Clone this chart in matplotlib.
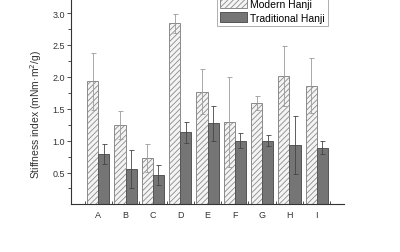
import numpy as np
import matplotlib
matplotlib.use('Agg')
import matplotlib.pyplot as plt
from matplotlib.ticker import FixedLocator

# dados
amostras = ['A', 'B', 'C', 'D', 'E', 'F', 'G', 'H', 'I']
moderno = [1.93, 1.24, 0.73, 2.84, 1.77, 1.29, 1.59, 2.02, 1.86]
moderno_err = [0.45, 0.22, 0.22, 0.15, 0.35, 0.71, 0.11, 0.47, 0.43]
tradicional = [0.79, 0.55, 0.46, 1.13, 1.27, 1.00, 1.00, 0.93, 0.89]
tradicional_err = [0.15, 0.30, 0.16, 0.16, 0.27, 0.12, 0.09, 0.45, 0.10]

plt.rcParams['font.family'] = 'Liberation Sans'
plt.rcParams['hatch.color'] = '#b0b0b0'
plt.rcParams['hatch.linewidth'] = 0.6

fig = plt.figure(figsize=(4, 2.53), dpi=100)
ax = fig.add_axes([0.1775, 0.188, 0.6825, 0.812])

x = np.arange(len(amostras))
w = 0.41

ax.bar(x - w / 2, moderno, w, yerr=moderno_err, color='#f4f4f4', hatch='//////',
       edgecolor='#8a8a8a', linewidth=0.7, label='Modern Hanji',
       error_kw=dict(ecolor='#9a9a9a', elinewidth=0.6, capsize=1.8, capthick=0.6))
ax.bar(x + w / 2, tradicional, w, yerr=tradicional_err, color='#757575',
       edgecolor='#555555', linewidth=0.7, label='Traditional Hanji',
       error_kw=dict(ecolor='#444444', elinewidth=0.6, capsize=1.8, capthick=0.6))

ax.set_xlim(-1, 9)
ax.set_ylim(0, 3.22)

ax.spines['top'].set_visible(False)
ax.spines['right'].set_visible(False)
for s in ['left', 'bottom']:
    ax.spines[s].set_color('#333333')
    ax.spines[s].set_linewidth(0.8)

ax.yaxis.set_major_locator(FixedLocator([0.5, 1.0, 1.5, 2.0, 2.5, 3.0]))
ax.yaxis.set_minor_locator(FixedLocator([0.25, 0.75, 1.25, 1.75, 2.25, 2.75]))
ax.tick_params(axis='y', which='major', direction='out', length=3, width=0.6,
               labelsize=6.5, colors='#333333', pad=1.5)
ax.tick_params(axis='y', which='minor', direction='out', length=2, width=0.6,
               colors='#333333')

ax.set_xticks(x)
ax.set_xticklabels(amostras)
ax.xaxis.set_minor_locator(FixedLocator(np.arange(-0.5, 9, 1.0)))
ax.tick_params(axis='x', which='major', length=0, labelsize=6.5, colors='#333333', pad=4)
ax.tick_params(axis='x', which='minor', direction='in', length=2, width=0.6,
               colors='#333333')

ax.set_ylabel('Stiffness index (mNm·m$^2$/g)', fontsize=7.5, color='#333333')
ax.yaxis.set_label_coords(-0.1, 0.445)

leg = ax.legend(loc='upper left', bbox_to_anchor=(0.535, 1.02), fontsize=7.5,
                frameon=True, fancybox=False, edgecolor='#9a9a9a',
                handlelength=2.6, handleheight=1.1, borderpad=0.3,
                labelspacing=0.35, handletextpad=0.3, borderaxespad=0)
leg.get_frame().set_linewidth(0.7)

fig.savefig('out.png', dpi=100)
